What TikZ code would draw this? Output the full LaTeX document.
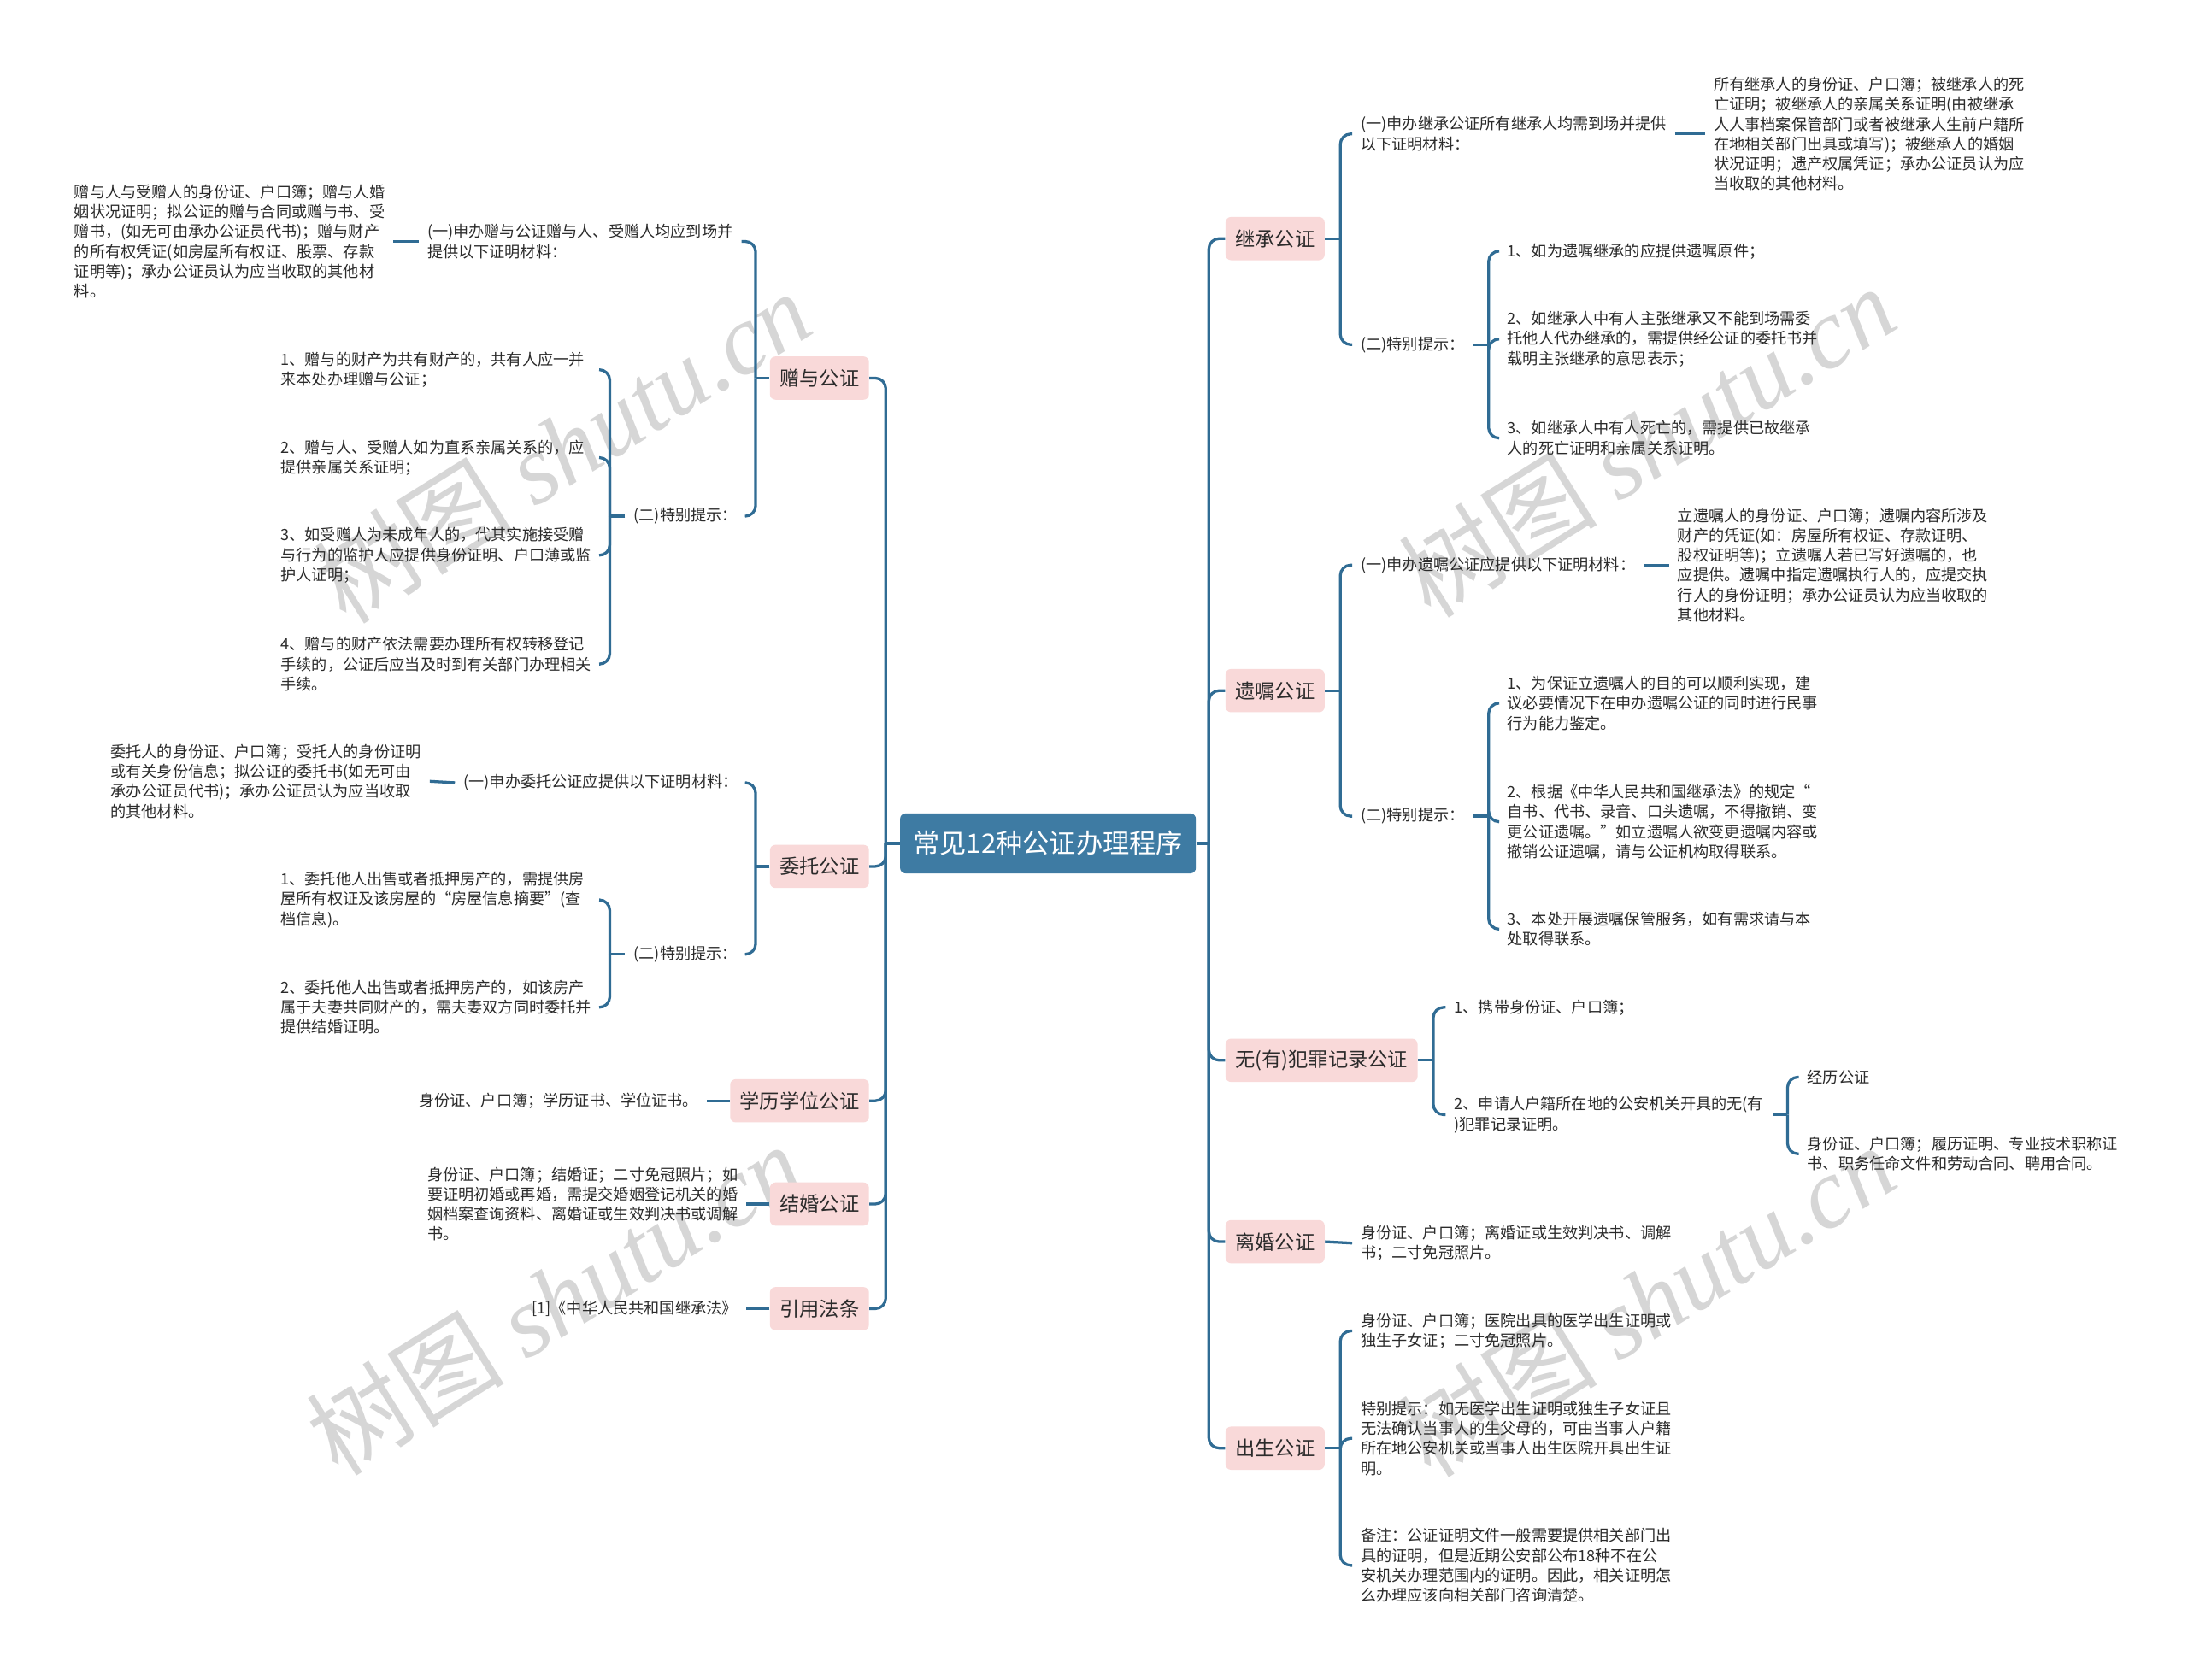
\documentclass[tikz,border=0pt]{standalone}
\usepackage{fontspec}
\setmainfont{Noto Sans CJK SC}
\newfontfamily\wmfont{Liberation Serif}
\usetikzlibrary{calc}
\definecolor{lc}{HTML}{306C94}
\definecolor{rc}{HTML}{3E7BA3}
\definecolor{pk}{HTML}{F9D9D9}
\definecolor{tc}{HTML}{2B2B2B}
\definecolor{wmc}{HTML}{D6D6D6}
\tikzset{
  conn/.style={draw=lc, line width=1.6pt, rounded corners=6pt},
  txt/.style={font=\fontsize{8.9pt}{11.4pt}\selectfont, text=tc, align=left, inner xsep=4.8pt, inner ysep=1.6pt, anchor=west},
  wbox/.style={txt, text width=178pt},
  pbox/.style={fill=pk, rounded corners=3.2pt, font=\fontsize{11.4pt}{13pt}\selectfont, text=tc, minimum height=24.8pt, inner xsep=5.6pt},
  rootbox/.style={fill=rc, rounded corners=3.2pt, font=\fontsize{15.3pt}{18pt}\selectfont, text=white, minimum height=34.4pt, minimum width=169.6pt},
  wm/.style={text=wmc, font=\fontsize{57pt}{57pt}\selectfont, rotate=32, inner sep=0pt},
}
\begin{document}
\begin{tikzpicture}[x=0.8pt,y=-0.8pt]
\fill[white] (0,0) rectangle (1568,1204);
\path[use as bounding box] (0,0) rectangle (1568,1204);

% watermarks
\node[wm] (wm1) at (403,320) {树图 {\wmfont\itshape shutu.cn}};
\node[wm] (wm2) at (1180,316) {树图 {\wmfont\itshape shutu.cn}};
\node[wm] (wm3) at (397,931) {树图 {\wmfont\itshape shutu.cn}};
\node[wm] (wm4) at (1180,932) {树图 {\wmfont\itshape shutu.cn}};

% root
\node[rootbox] (root) at (751,604.5) {常见12种公证办理程序};

% left level 1
\node[pbox, anchor=east] (zy) at (623,271) {赠与公证};
\node[pbox, anchor=east] (wt) at (623,621) {委托公证};
\node[pbox, anchor=east] (xl) at (623,789) {学历学位公证};
\node[pbox, anchor=east] (jh) at (623,863) {结婚公证};
\node[pbox, anchor=east] (yf) at (623,938) {引用法条};

% right level 1
\node[pbox, anchor=west] (jc) at (878,171) {继承公证};
\node[pbox, anchor=west] (yz) at (878,495) {遗嘱公证};
\node[pbox, anchor=west] (fz) at (878,760) {无(有)犯罪记录公证};
\node[pbox, anchor=west] (lh) at (878,890) {离婚公证};
\node[pbox, anchor=west] (cs) at (878,1038) {出生公证};

% 赠与公证
\node[txt] (zy1) at (300,173) {(一)申办赠与公证赠与人、受赠人均应到场并\\提供以下证明材料：};
\node[wbox] (zy1c) at (47,173) {赠与人与受赠人的身份证、户口簿；赠与人婚\\姻状况证明；拟公证的赠与合同或赠与书、受\\赠书，(如无可由承办公证员代书)；赠与财产\\的所有权凭证(如房屋所有权证、股票、存款\\证明等)；承办公证员认为应当收取的其他材\\料。};
\node[txt] (zy2) at (448,370) {(二)特别提示：};
\node[wbox] (zy2a) at (195,265) {1、赠与的财产为共有财产的，共有人应一并\\来本处办理赠与公证；};
\node[wbox] (zy2b) at (195,328) {2、赠与人、受赠人如为直系亲属关系的，应\\提供亲属关系证明；};
\node[wbox] (zy2c) at (195,398) {3、如受赠人为未成年人的，代其实施接受赠\\与行为的监护人应提供身份证明、户口薄或监\\护人证明；};
\node[wbox] (zy2d) at (195,476) {4、赠与的财产依法需要办理所有权转移登记\\手续的，公证后应当及时到有关部门办理相关\\手续。};

% 委托公证
\node[txt] (wt1) at (326,561) {(一)申办委托公证应提供以下证明材料：};
\node[wbox] (wt1c) at (73,560) {委托人的身份证、户口簿；受托人的身份证明\\或有关身份信息；拟公证的委托书(如无可由\\承办公证员代书)；承办公证员认为应当收取\\的其他材料。};
\node[txt] (wt2) at (448,684) {(二)特别提示：};
\node[wbox] (wt2a) at (195,645) {1、委托他人出售或者抵押房产的，需提供房\\屋所有权证及该房屋的“房屋信息摘要”(查\\档信息)。};
\node[wbox] (wt2b) at (195,722) {2、委托他人出售或者抵押房产的，如该房产\\属于夫妻共同财产的，需夫妻双方同时委托并\\提供结婚证明。};

% 学历 / 结婚 / 引用
\node[txt] (xl1) at (294,789) {身份证、户口簿；学历证书、学位证书。};
\node[wbox] (jh1) at (300,863) {身份证、户口簿；结婚证；二寸免冠照片；如\\要证明初婚或再婚，需提交婚姻登记机关的婚\\姻档案查询资料、离婚证或生效判决书或调解\\书。};
\node[txt] (yf1) at (375,938) {[1]《中华人民共和国继承法》};

% 继承公证
\node[txt] (jc1) at (969,96) {(一)申办继承公证所有继承人均需到场并提供\\以下证明材料：};
\node[wbox] (jc1c) at (1222,96) {所有继承人的身份证、户口簿；被继承人的死\\亡证明；被继承人的亲属关系证明(由被继承\\人人事档案保管部门或者被继承人生前户籍所\\在地相关部门出具或填写)；被继承人的婚姻\\状况证明；遗产权属凭证；承办公证员认为应\\当收取的其他材料。};
\node[txt] (jc2) at (969,247) {(二)特别提示：};
\node[txt] (jc2a) at (1074,180) {1、如为遗嘱继承的应提供遗嘱原件；};
\node[wbox] (jc2b) at (1074,243) {2、如继承人中有人主张继承又不能到场需委\\托他人代办继承的，需提供经公证的委托书并\\载明主张继承的意思表示；};
\node[wbox] (jc2c) at (1074,314) {3、如继承人中有人死亡的，需提供已故继承\\人的死亡证明和亲属关系证明。};

% 遗嘱公证
\node[txt] (yz1) at (969,405) {(一)申办遗嘱公证应提供以下证明材料：};
\node[wbox] (yz1c) at (1196,405) {立遗嘱人的身份证、户口簿；遗嘱内容所涉及\\财产的凭证(如：房屋所有权证、存款证明、\\股权证明等)；立遗嘱人若已写好遗嘱的，也\\应提供。遗嘱中指定遗嘱执行人的，应提交执\\行人的身份证明；承办公证员认为应当收取的\\其他材料。};
\node[txt] (yz2) at (969,585) {(二)特别提示：};
\node[wbox] (yz2a) at (1074,504) {1、为保证立遗嘱人的目的可以顺利实现，建\\议必要情况下在申办遗嘱公证的同时进行民事\\行为能力鉴定。};
\node[wbox] (yz2b) at (1074,589) {2、根据《中华人民共和国继承法》的规定“\\自书、代书、录音、口头遗嘱，不得撤销、变\\更公证遗嘱。”如立遗嘱人欲变更遗嘱内容或\\撤销公证遗嘱，请与公证机构取得联系。};
\node[wbox] (yz2c) at (1074,666) {3、本处开展遗嘱保管服务，如有需求请与本\\处取得联系。};

% 无(有)犯罪记录公证
\node[txt] (fz1) at (1036,722) {1、携带身份证、户口簿；};
\node[wbox] (fz2) at (1036,799) {2、申请人户籍所在地的公安机关开具的无(有\\)犯罪记录证明。};
\node[txt] (fz2a) at (1289,772) {经历公证};
\node[wbox] (fz2b) at (1289,827) {身份证、户口簿；履历证明、专业技术职称证\\书、职务任命文件和劳动合同、聘用合同。};

% 离婚公证
\node[wbox] (lh1) at (969,891) {身份证、户口簿；离婚证或生效判决书、调解\\书；二寸免冠照片。};

% 出生公证
\node[wbox] (cs1) at (969,954) {身份证、户口簿；医院出具的医学出生证明或\\独生子女证；二寸免冠照片。};
\node[wbox] (cs2) at (969,1031) {特别提示：如无医学出生证明或独生子女证且\\无法确认当事人的生父母的，可由当事人户籍\\所在地公安机关或当事人出生医院开具出生证\\明。};
\node[wbox] (cs3) at (969,1122) {备注：公证证明文件一般需要提供相关部门出\\具的证明，但是近期公安部公布18种不在公\\安机关办理范围内的证明。因此，相关证明怎\\么办理应该向相关部门咨询清楚。};

% ---------- connectors ----------
% root left
\draw[conn] (root.west) -- ($(root.west)+(-10,0)$);
\foreach \c in {zy,wt,xl,jh,yf}
  \draw[conn] ($(root.west)+(-10,0)$) |- (\c.east);
% root right
\draw[conn] (root.east) -- ($(root.east)+(9,0)$);
\foreach \c in {jc,yz,fz,lh,cs}
  \draw[conn] ($(root.east)+(9,0)$) |- (\c.west);

% 赠与
\draw[conn] (zy.west) -- ($(zy.west)+(-10,0)$);
\foreach \c in {zy1,zy2}
  \draw[conn] ($(zy.west)+(-10,0)$) |- (\c.east);
\draw[conn] (zy1.west) -- (zy1c.east);
\draw[conn] (zy2.west) -- ($(zy2.west)+(-11,0)$);
\foreach \c in {zy2a,zy2b,zy2c,zy2d}
  \draw[conn] ($(zy2.west)+(-11,0)$) |- (\c.east);

% 委托
\draw[conn] (wt.west) -- ($(wt.west)+(-10,0)$);
\foreach \c in {wt1,wt2}
  \draw[conn] ($(wt.west)+(-10,0)$) |- (\c.east);
\draw[conn] (wt1.west) -- (wt1c.east);
\draw[conn] (wt2.west) -- ($(wt2.west)+(-11,0)$);
\foreach \c in {wt2a,wt2b}
  \draw[conn] ($(wt2.west)+(-11,0)$) |- (\c.east);

% single children left
\draw[conn] (xl.west) -- (xl1.east);
\draw[conn] (jh.west) -- (jh1.east);
\draw[conn] (yf.west) -- (yf1.east);

% 继承
\draw[conn] (jc.east) -- ($(jc.east)+(11,0)$);
\foreach \c in {jc1,jc2}
  \draw[conn] ($(jc.east)+(11,0)$) |- (\c.west);
\draw[conn] (jc1.east) -- (jc1c.west);
\draw[conn] (jc2.east) -- ($(jc2.east)+(11,0)$);
\foreach \c in {jc2a,jc2b,jc2c}
  \draw[conn] ($(jc2.east)+(11,0)$) |- (\c.west);

% 遗嘱
\draw[conn] (yz.east) -- ($(yz.east)+(11,0)$);
\foreach \c in {yz1,yz2}
  \draw[conn] ($(yz.east)+(11,0)$) |- (\c.west);
\draw[conn] (yz1.east) -- (yz1c.west);
\draw[conn] (yz2.east) -- ($(yz2.east)+(11,0)$);
\foreach \c in {yz2a,yz2b,yz2c}
  \draw[conn] ($(yz2.east)+(11,0)$) |- (\c.west);

% 无(有)犯罪记录
\draw[conn] (fz.east) -- ($(fz.east)+(11,0)$);
\foreach \c in {fz1,fz2}
  \draw[conn] ($(fz.east)+(11,0)$) |- (\c.west);
\draw[conn] (fz2.east) -- ($(fz2.east)+(10,0)$);
\foreach \c in {fz2a,fz2b}
  \draw[conn] ($(fz2.east)+(10,0)$) |- (\c.west);

% 离婚
\draw[conn] (lh.east) -- (lh1.west);

% 出生
\draw[conn] (cs.east) -- ($(cs.east)+(11,0)$);
\foreach \c in {cs1,cs2,cs3}
  \draw[conn] ($(cs.east)+(11,0)$) |- (\c.west);
\end{tikzpicture}
\end{document}
